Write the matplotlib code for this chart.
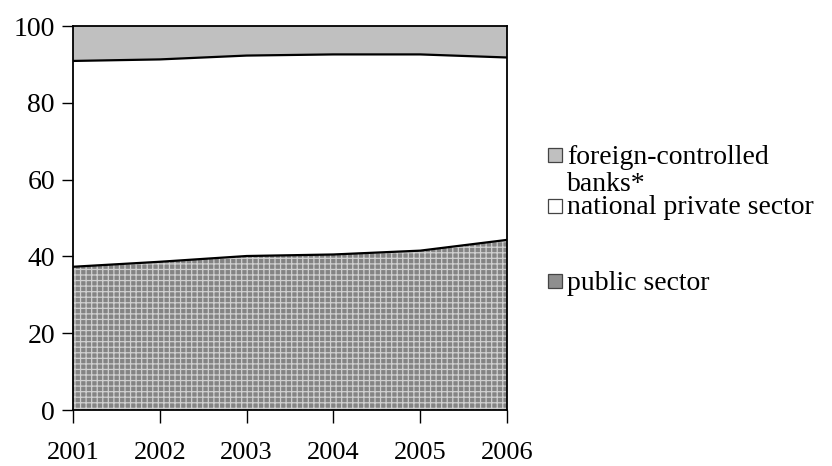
import numpy as np
import matplotlib.pyplot as plt
from matplotlib.patches import Rectangle

years = [2001, 2002, 2003, 2004, 2005, 2006]
public_sector = [37.3, 38.6, 40.1, 40.5, 41.5, 44.3]
national_private = [53.6, 52.7, 52.2, 52.1, 51.1, 47.5]
foreign_banks = [9.1, 8.7, 7.7, 7.4, 7.4, 8.2]
labels = ["foreign-controlled\nbanks*", "national private sector", "public sector"]


def main():
    plt.rcParams['font.family'] = ['Liberation Serif', 'DejaVu Serif']
    plt.rcParams['hatch.linewidth'] = 0.9
    W, H = 832, 466
    fig = plt.figure(figsize=(W / 100, H / 100), dpi=100)
    ax = fig.add_axes([73 / W, 56 / H, 434 / W, 384 / H])

    x = np.array(years)
    pub = np.array(public_sector)
    nat = pub + np.array(national_private)
    top = nat + np.array(foreign_banks)

    ax.fill_between(x, 0, pub, facecolor="#848484", edgecolor="#d0d0d0",
                    hatch="+++", linewidth=0)
    ax.fill_between(x, pub, nat, facecolor="white", linewidth=0)
    ax.fill_between(x, nat, top, facecolor="#c0c0c0", linewidth=0)
    ax.plot(x, pub, "k", lw=1.6)
    ax.plot(x, nat, "k", lw=1.6)

    ax.set_xlim(2001, 2006)
    ax.set_ylim(0, 100)
    ax.set_xticks(years)
    ax.set_yticks(range(0, 101, 20))
    ax.tick_params(axis="x", direction="out", length=9, width=1, pad=14, labelsize=19)
    ax.tick_params(axis="y", direction="out", length=8, width=1, pad=5, labelsize=20)
    for s in ax.spines.values():
        s.set_linewidth(1.3)

    # legend drawn by hand: the entries are spaced unevenly
    colors = ["#c0c0c0", "white", "#8e8e8e"]
    marker_y = [155, 206, 281]
    for col, lab, yy in zip(colors, labels, marker_y):
        fig.add_artist(Rectangle((548 / W, 1 - (yy + 7) / H), 14 / W, 14 / H,
                                 facecolor=col, edgecolor="#444444", lw=0.9,
                                 transform=fig.transFigure))
        for i, line in enumerate(lab.split("\n")):
            fig.text(567 / W, 1 - (yy + 2 + 28 * i) / H, line, fontsize=20,
                     ha="left", va="center")

    plt.savefig("out.png", dpi=100)


if __name__ == '__main__':
    main()
